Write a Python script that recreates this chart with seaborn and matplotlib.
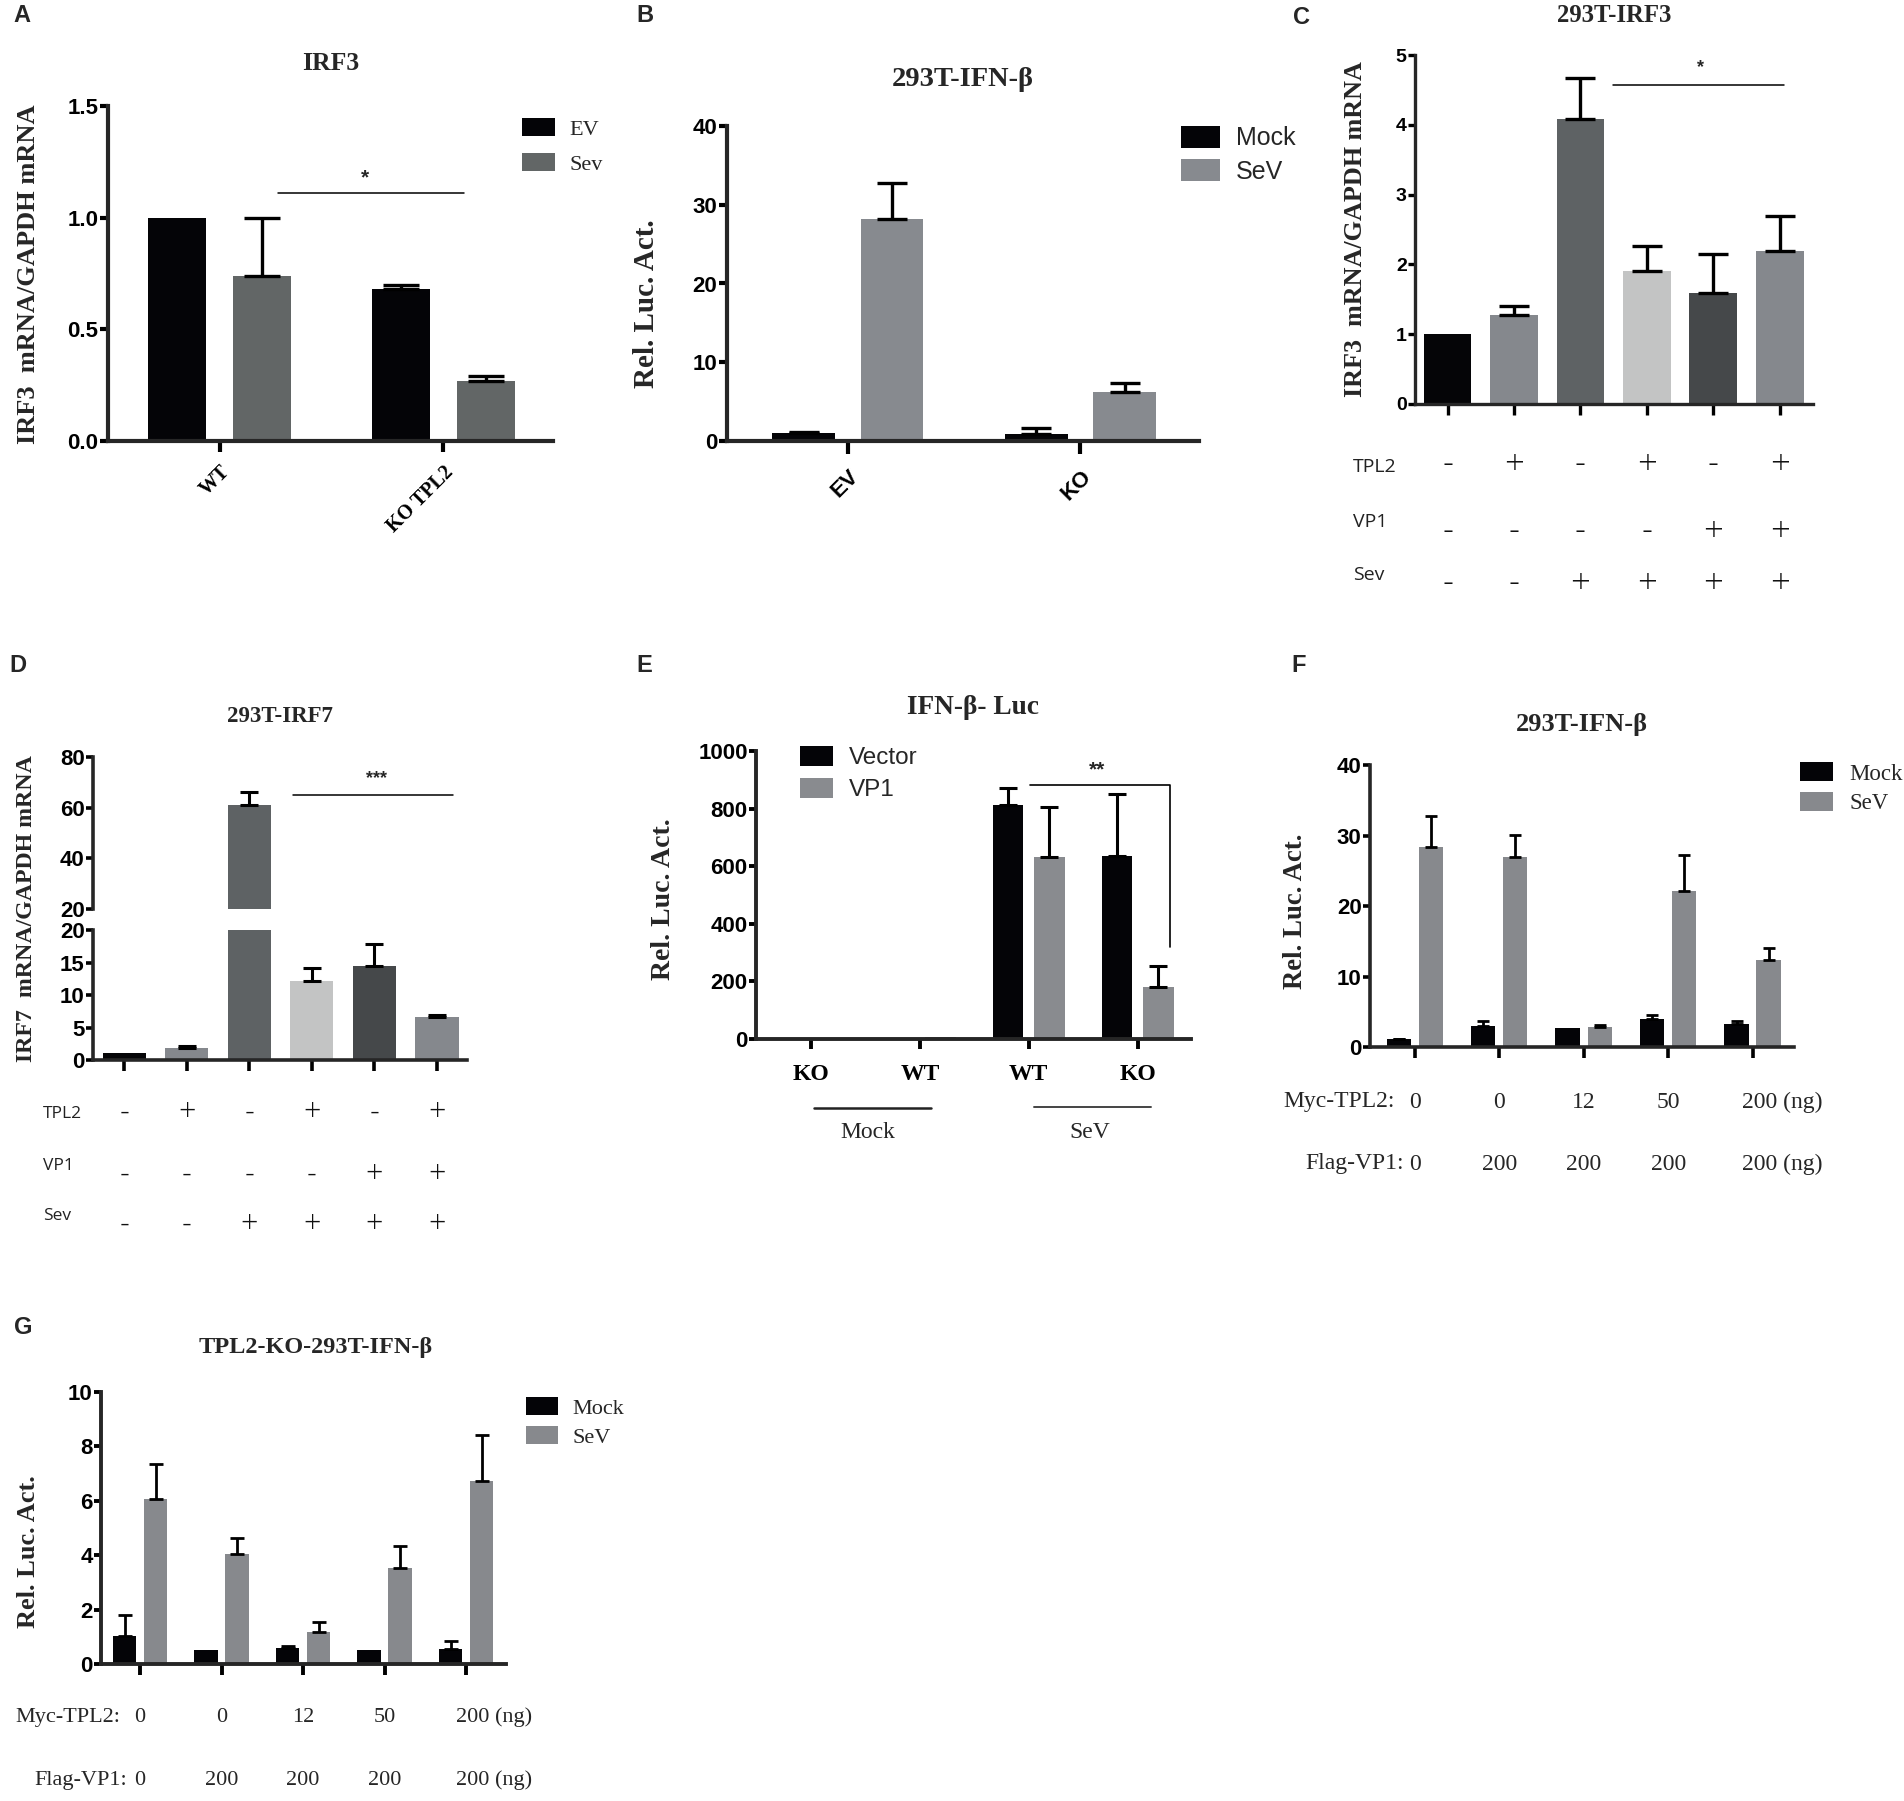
import pandas as pd
import seaborn as sns
import matplotlib.pyplot as plt
from matplotlib.patches import Patch
from matplotlib.transforms import blended_transform_factory as blend

# ---------------- data ----------------
# A: IRF3 mRNA, WT vs KO TPL2
a_groups = ["WT", "KO TPL2"]
a_ev = [1.0, 0.68]
a_ev_err = [0.0, 0.02]
a_sev = [0.74, 0.27]
a_sev_err = [0.26, 0.02]

# B: 293T-IFN-b luciferase
b_groups = ["EV", "KO"]
b_mock = [1.0, 0.9]
b_mock_err = [0.1, 0.8]
b_sev = [28.2, 6.2]
b_sev_err = [4.6, 1.2]

# C: 293T-IRF3
c_conds = ["c1", "c2", "c3", "c4", "c5", "c6"]
c_vals = [1.0, 1.28, 4.08, 1.90, 1.59, 2.19]
c_err = [0.0, 0.12, 0.59, 0.37, 0.56, 0.51]
tpl2_row = ["-", "+", "-", "+", "-", "+"]
vp1_row = ["-", "-", "-", "-", "+", "+"]
sev_row = ["-", "-", "+", "+", "+", "+"]

# D: 293T-IRF7
d_vals = [1.1, 1.9, 61.0, 12.2, 14.4, 6.6]
d_err = [0.0, 0.2, 5.2, 2.0, 3.4, 0.4]

# E: IFN-b Luc
e_keys = ["Mock KO", "Mock WT", "SeV WT", "SeV KO"]
e_labels = ["KO", "WT", "WT", "KO"]
e_vector = [1, 3, 814, 635]
e_vector_err = [0, 0, 56, 215]
e_vp1 = [1, 6, 633, 182]
e_vp1_err = [0, 0, 173, 72]

# F: 293T-IFN-b dose
f_keys = ["f1", "f2", "f3", "f4", "f5"]
f_mock = [1.1, 3.0, 2.7, 4.0, 3.3]
f_mock_err = [0.1, 0.7, 0.0, 0.5, 0.45]
f_sev = [28.3, 27.0, 2.9, 22.1, 12.3]
f_sev_err = [4.4, 3.1, 0.2, 5.1, 1.7]
myc_doses = ["0", "0", "12", "50", "200 (ng)"]
flag_doses = ["0", "200", "200", "200", "200 (ng)"]

# G: TPL2-KO-293T-IFN-b dose
g_mock = [1.04, 0.53, 0.60, 0.53, 0.55]
g_mock_err = [0.77, 0.0, 0.05, 0.0, 0.31]
g_sev = [6.06, 4.05, 1.16, 3.52, 6.72]
g_sev_err = [1.29, 0.60, 0.37, 0.80, 1.69]

BLACK = "#040407"
C_COLORS = ["#050507", "#85888d", "#5e6264", "#c3c4c4", "#45484a", "#85888d"]

# ---------------- style ----------------
sns.set_style("ticks")
plt.rcParams["font.family"] = ["Liberation Sans", "DejaVu Sans"]
plt.rcParams["font.weight"] = "bold"
SERIF = ["Liberation Serif", "DejaVu Serif"]
SANS = ["Liberation Sans", "DejaVu Sans"]
LIGHT = ["Open Sans", "DejaVu Sans"]

W, H = 1904, 1801
fig = plt.figure(figsize=(W / 100, H / 100), dpi=100)


def box(l, t, r, b):
    return [l / W, 1 - b / H, (r - l) / W, (b - t) / H]


def ftext(x, y, s, **kw):
    kw.setdefault("ha", "center")
    kw.setdefault("va", "center")
    fig.text(x / W, 1 - y / H, s, **kw)


def style(ax, lw, xlen, ylen, size):
    sns.despine(ax=ax)
    ax.spines["left"].set_linewidth(lw)
    ax.spines["bottom"].set_linewidth(lw)
    ax.tick_params(axis="both", width=lw, labelsize=size, colors="black")
    ax.tick_params(axis="x", length=xlen)
    ax.tick_params(axis="y", length=ylen, pad=1)
    ax.set_xlabel("")
    ax.set_ylabel("")


def grouped(ax, keys, s1, s2, names, colors, gap):
    df = pd.DataFrame({"group": keys * 2,
                       "cond": [names[0]] * len(keys) + [names[1]] * len(keys),
                       "val": s1 + s2})
    sns.barplot(data=df, x="group", y="val", hue="cond", order=keys,
                hue_order=names, palette=colors, width=0.76, gap=gap,
                errorbar=None, legend=False, saturation=1, linewidth=0, ax=ax)


def single(ax, keys, vals, colors, width):
    df = pd.DataFrame({"cond": keys, "val": vals})
    sns.barplot(data=df, x="cond", y="val", hue="cond", order=keys,
                hue_order=keys, palette=colors, width=width, errorbar=None,
                legend=False, saturation=1, linewidth=0, ax=ax)


def add_err(ax, errs, capsize, lw):
    rects = []
    for c in list(ax.containers):
        rects += sorted(c, key=lambda r: r.get_x())
    for r, e in zip(rects, errs):
        if e > 0:
            ax.errorbar(r.get_x() + r.get_width() / 2, r.get_height(),
                        yerr=[[0], [e]], fmt="none", ecolor="black",
                        elinewidth=lw, capsize=capsize, capthick=lw)


def legend_px(ax, labels, colors, x, y, size, family, spacing, hl, hh, pad):
    handles = [Patch(facecolor=c, edgecolor="none") for c in colors]
    ax.legend(handles, labels, loc="upper left",
              bbox_to_anchor=(x / W, 1 - y / H), bbox_transform=fig.transFigure,
              frameon=False, borderpad=0, borderaxespad=0, handlelength=hl,
              handleheight=hh, handletextpad=pad, labelspacing=spacing,
              prop={"family": family, "size": size, "weight": "normal"})


def sign_rows(ax, names, rows, name_x, name_ys, sign_ys, nsize, ssize):
    tr = blend(ax.transData, fig.transFigure)
    for name, row, ny, sy in zip(names, rows, name_ys, sign_ys):
        ftext(name_x, ny, name, ha="left", family=LIGHT, size=nsize,
              weight="normal", color="#222222")
        for i, s in enumerate(row):
            ax.text(i, 1 - sy / H, s, transform=tr, ha="center", va="center",
                    family=LIGHT, size=ssize, weight="light", color="#111111")


def dose_rows(ax, rows, name_xs, ys, size):
    tr = blend(ax.transData, fig.transFigure)
    for (name, vals), nx, y in zip(rows, name_xs, ys):
        ftext(nx, y, name, ha="left", family=SERIF, size=size, weight="normal")
        for i, v in enumerate(vals):
            if "(ng)" in v:
                ax.text(i - 0.12, 1 - y / H, v, transform=tr, ha="left",
                        va="center", family=SERIF, size=size, weight="normal")
            else:
                ax.text(i, 1 - y / H, v, transform=tr, ha="center",
                        va="center", family=SERIF, size=size, weight="normal")


# ---------------- A ----------------
axA = fig.add_axes(box(108, 106, 553, 441))
grouped(axA, a_groups, a_ev, a_sev, ["EV", "Sev"], [BLACK, "#626666"], 0.32)
add_err(axA, a_ev_err + a_sev_err, 13, 2.4)
style(axA, 3.0, 8, 6, 16)
axA.set_xlim(-0.5, 1.49)
axA.set_ylim(0, 1.5)
axA.set_yticks([0, 0.5, 1.0, 1.5], ["0.0", "0.5", "1.0", "1.5"])
axA.set_xticks([0, 1])
axA.set_xticklabels(a_groups, rotation=45, ha="right", rotation_mode="anchor",
                    family=SERIF, size=14.5)
axA.tick_params(axis="x", pad=7)
axA.plot([0.26, 1.09], [1.11, 1.11], color="black", lw=1.1)
axA.text(0.65, 1.18, "*", ha="center", va="center", size=15)
legend_px(axA, ["EV", "Sev"], [BLACK, "#626666"], 522, 118, 16, SERIF,
          0.59, 1.49, 0.9, 0.63)
ftext(29, 274, "IRF3  mRNA/GAPDH mRNA", rotation=90, family=SERIF, size=19)
ftext(331, 64, "IRF3", family=SERIF, size=18.5)
ftext(22, 16, "A", size=17)

# ---------------- B ----------------
axB = fig.add_axes(box(727, 126, 1199, 441))
grouped(axB, b_groups, b_mock, b_sev, ["Mock", "SeV"], [BLACK, "#878a8f"], 0.29)
add_err(axB, b_mock_err + b_sev_err, 11, 2.4)
style(axB, 3.0, 9, 6, 16)
axB.set_xlim(-0.52, 1.51)
axB.set_ylim(0, 40)
axB.set_yticks([0, 10, 20, 30, 40])
axB.set_xticks([0, 1])
axB.set_xticklabels(b_groups, rotation=45, ha="right", rotation_mode="anchor",
                    family=SANS, size=16)
axB.tick_params(axis="x", pad=9)
legend_px(axB, ["Mock", "SeV"], [BLACK, "#878a8f"], 1181, 126, 18, SANS,
          0.35, 1.56, 0.96, 0.64)
ftext(647, 304, "Rel. Luc. Act.", rotation=90, family=SERIF, size=21)
ftext(963, 80, "293T-IFN-β", family=SERIF, size=20.5)
ftext(645, 15, "B", size=17)

# ---------------- C ----------------
axC = fig.add_axes(box(1415, 55, 1813, 404))
single(axC, c_conds, c_vals, C_COLORS, 0.72)
add_err(axC, c_err, 10.5, 2.4)
style(axC, 2.4, 8, 5, 14)
axC.set_xlim(-0.49, 5.5)
axC.set_ylim(0, 5)
axC.set_yticks([0, 1, 2, 3, 4, 5])
axC.set_xticks(range(6))
axC.set_xticklabels([""] * 6)
axC.plot([2.49, 5.06], [4.57, 4.57], color="black", lw=1.1)
axC.text(3.8, 4.82, "*", ha="center", va="center", size=13)
sign_rows(axC, ["TPL2", "VP1", "Sev"], [tpl2_row, vp1_row, sev_row],
          1353, [467, 522, 575], [465, 532, 584], 14, 25)
ftext(1355, 229, "IRF3  mRNA/GAPDH mRNA", rotation=90, family=SERIF, size=18.8)
ftext(1614, 15, "293T-IRF3", family=SERIF, size=17.8)
ftext(1302, 17, "C", size=17)

# ---------------- D (broken axis) ----------------
axDt = fig.add_axes(box(93, 757, 467, 909))
axDb = fig.add_axes(box(93, 930, 467, 1060))
for ax in (axDt, axDb):
    single(ax, c_conds, d_vals, C_COLORS, 0.69)
    add_err(ax, d_err, 6.5, 2.2)
    style(ax, 2.6, 8, 5, 16)
    ax.set_xlim(-0.5, 5.48)
axDt.spines["bottom"].set_visible(False)
axDt.tick_params(axis="x", bottom=False, labelbottom=False)
axDt.set_ylim(20, 80)
axDt.set_yticks([20, 40, 60, 80])
axDb.set_ylim(0, 20)
axDb.set_yticks([0, 5, 10, 15, 20])
axDb.set_xticks(range(6))
axDb.set_xticklabels([""] * 6)
axDt.plot([2.7, 5.25], [64.9, 64.9], color="black", lw=1.1)
axDt.text(4.03, 71.5, "***", ha="center", va="center", size=13)
sign_rows(axDb, ["TPL2", "VP1", "Sev"], [tpl2_row, vp1_row, sev_row],
          43, [1114, 1166, 1216], [1113, 1175, 1225], 12.5, 22)
ftext(27, 909, "IRF7  mRNA/GAPDH mRNA", rotation=90, family=SERIF, size=17.2)
ftext(280, 717, "293T-IRF7", family=SERIF, size=16.5)
ftext(18, 665, "D", size=17)

# ---------------- E ----------------
axE = fig.add_axes(box(756, 751, 1191, 1039))
grouped(axE, e_keys, e_vector, e_vp1, ["Vector", "VP1"], [BLACK, "#898b8f"], 0.26)
add_err(axE, e_vector_err + e_vp1_err, 6.6, 2.2)
style(axE, 2.8, 7, 5, 16)
axE.set_xlim(-0.505, 3.49)
axE.set_ylim(0, 1000)
axE.set_yticks([0, 200, 400, 600, 800, 1000])
axE.set_xticks(range(4))
axE.set_xticklabels(e_labels, family=SERIF, size=17)
axE.tick_params(axis="x", pad=11)
axE.plot([2.01, 3.30, 3.30], [881, 881, 319], color="black", lw=1.2)
axE.text(2.63, 935, "**", ha="center", va="center", size=15)
trE = blend(axE.transData, fig.transFigure)
axE.plot([0.03, 1.10], [1 - 1108 / H] * 2, transform=trE, color="#222222",
         lw=1.8, clip_on=False)
axE.plot([2.05, 3.12], [1 - 1107 / H] * 2, transform=trE, color="#444444",
         lw=1.4, clip_on=False)
axE.text(0.52, 1 - 1132 / H, "Mock", transform=trE, ha="center", va="center",
         family=SERIF, size=17, weight="normal")
axE.text(2.56, 1 - 1132 / H, "SeV", transform=trE, ha="center", va="center",
         family=SERIF, size=17, weight="normal")
legend_px(axE, ["Vector", "VP1"], [BLACK, "#898b8f"], 800, 746, 17.5, SANS,
          0.35, 1.36, 0.9, 0.66)
ftext(663, 899, "Rel. Luc. Act.", rotation=90, family=SERIF, size=20)
ftext(973, 707, "IFN-β- Luc", family=SERIF, size=19.7)
ftext(644, 665, "E", size=17)

# ---------------- F ----------------
axF = fig.add_axes(box(1370, 765, 1794, 1047))
grouped(axF, f_keys, f_mock, f_sev, ["Mock", "SeV"], [BLACK, "#87898d"], 0.24)
add_err(axF, f_mock_err + f_sev_err, 4.4, 2.0)
style(axF, 2.6, 8, 5, 16)
axF.set_xlim(-0.53, 4.49)
axF.set_ylim(0, 40)
axF.set_yticks([0, 10, 20, 30, 40])
axF.set_xticks(range(5))
axF.set_xticklabels([""] * 5)
legend_px(axF, ["Mock", "SeV"], [BLACK, "#87898d"], 1800, 762, 16.5, SERIF,
          0.31, 1.44, 0.92, 0.7)
dose_rows(axF, [("Myc-TPL2:", myc_doses), ("Flag-VP1:", flag_doses)],
          [1283, 1305], [1102, 1164], 17)
ftext(1296, 911, "Rel. Luc. Act.", rotation=90, family=SERIF, size=19.3)
ftext(1582, 724, "293T-IFN-β", family=SERIF, size=19)
ftext(1299, 665, "F", size=17)

# ---------------- G ----------------
axG = fig.add_axes(box(101, 1392, 506, 1664))
grouped(axG, f_keys, g_mock, g_sev, ["Mock", "SeV"], [BLACK, "#87898d"], 0.24)
add_err(axG, g_mock_err + g_sev_err, 5.3, 2.0)
style(axG, 2.8, 8, 5, 16)
axG.set_xlim(-0.48, 4.49)
axG.set_ylim(0, 10)
axG.set_yticks([0, 2, 4, 6, 8, 10])
axG.set_xticks(range(5))
axG.set_xticklabels([""] * 5)
legend_px(axG, ["Mock", "SeV"], [BLACK, "#87898d"], 526, 1397, 16, SERIF,
          0.32, 1.44, 0.9, 0.63)
dose_rows(axG, [("Myc-TPL2:", myc_doses), ("Flag-VP1:", flag_doses)],
          [15, 34], [1717, 1780], 16)
ftext(29, 1552, "Rel. Luc. Act.", rotation=90, family=SERIF, size=19)
ftext(316, 1347, "TPL2-KO-293T-IFN-β", family=SERIF, size=17.5)
ftext(23, 1327, "G", size=17)

fig.savefig("out.png", dpi=100)
